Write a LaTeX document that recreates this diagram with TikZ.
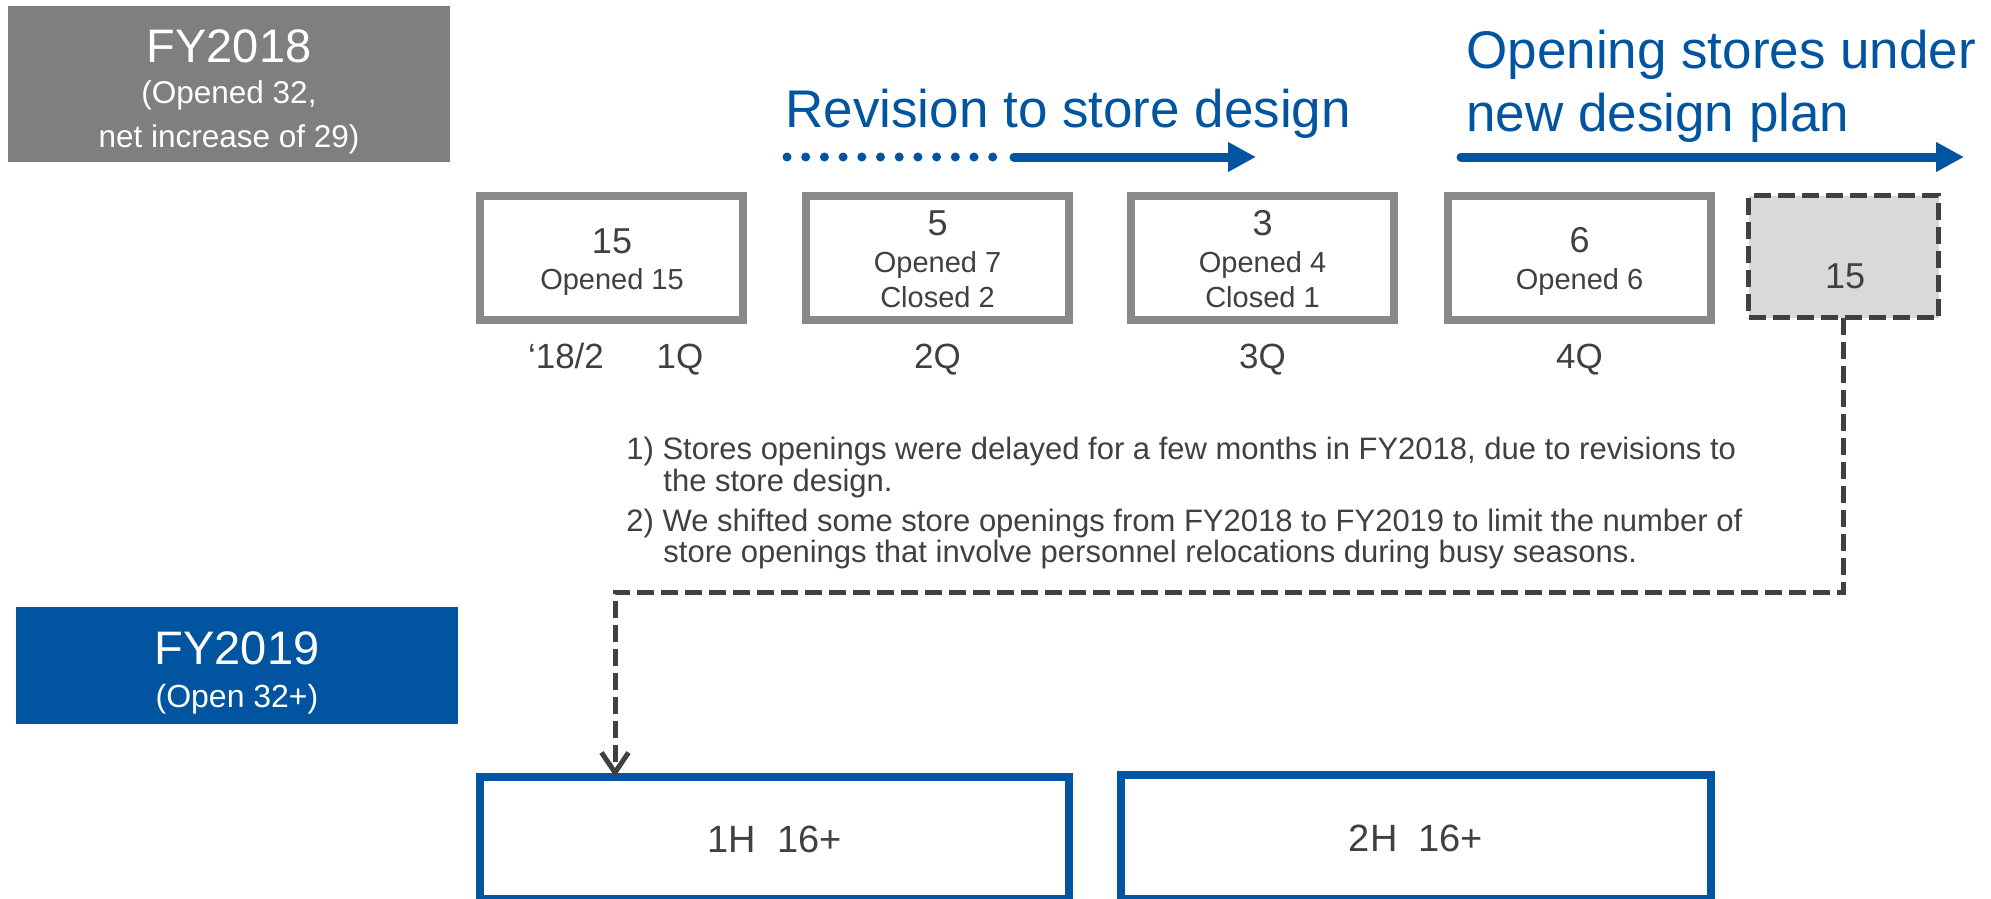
\documentclass[tikz,border=0pt]{standalone}
\usepackage{fontspec}
\setmainfont{Liberation Sans}
\usetikzlibrary{arrows.meta}
\definecolor{fyblue}{RGB}{0,84,160}
\definecolor{fygray}{RGB}{127,127,127}
\definecolor{boxgray}{RGB}{137,137,137}
\definecolor{txt}{RGB}{64,64,64}
\definecolor{dkgray}{RGB}{64,64,64}
\definecolor{lightfill}{RGB}{217,217,217}
\newcommand\myfs[1]{\fontsize{#1}{#1}\selectfont}
\begin{document}
\begin{tikzpicture}[x=0.5pt,y=-0.5pt,
  qbox/.style={draw=boxgray, line width=4pt, fill=white, minimum width=131.5pt, minimum height=62pt, inner sep=0pt, outer sep=0pt},
  hbox/.style={draw=fyblue, line width=4pt, fill=white, inner sep=0pt, outer sep=0pt},
  tagbox/.style={inner sep=0pt, outer sep=0pt, minimum width=221pt},
  wtext/.style={text=white, inner sep=0pt, anchor=base},
  gtext/.style={text=txt, inner sep=0pt, anchor=base},
  btext/.style={text=fyblue, inner sep=0pt, anchor=base west, font=\myfs{26.5pt}},
  conn/.style={draw=dkgray, line width=2.5pt, dash pattern=on 8.5pt off 3.5pt},
  bluearrow/.style={draw=fyblue, line width=4.5pt, line cap=round, -{Triangle[length=14pt,width=14pt]}},
  numf/.style={font=\myfs{18pt}},
  hf/.style={font=\myfs{19pt}},
  detf/.style={font=\myfs{14.5pt}},
  qf/.style={font=\myfs{17.5pt}},
  notef/.style={gtext, anchor=base west, font=\myfs{15.5pt}},
]
\useasboundingbox (0,0) rectangle (1991,899);

% FY tags
\node[tagbox, fill=fygray, minimum height=78pt] (fy18) at (229,84) {};
\node[wtext, font=\myfs{23.5pt}] (fy18a) at (229,63) {FY2018};
\node[wtext, font=\myfs{15.75pt}] (fy18b) at (229,104) {(Opened 32,};
\node[wtext, font=\myfs{15.75pt}] (fy18c) at (229,148) {net increase of 29)};

\node[tagbox, fill=fyblue, minimum height=58.5pt] (fy19) at (237,665.5) {};
\node[wtext, font=\myfs{23.5pt}] (fy19a) at (237,664) {FY2019};
\node[wtext, font=\myfs{16pt}] (fy19b) at (237,707) {(Open 32+)};

% quarter boxes
\node[qbox] (q1) at (611.5,258) {};
\node[qbox] (q2) at (937.5,258) {};
\node[qbox] (q3) at (1262.5,258) {};
\node[qbox] (q4) at (1579.5,258) {};
\node[conn, fill=lightfill, minimum width=95pt, minimum height=61pt, inner sep=0pt, outer sep=0pt] (q5) at (1843.5,256.5) {};

\node[gtext, numf] (q1n) at (612,253) {15};
\node[gtext, detf] (q1d) at (612,289) {Opened 15};
\node[gtext, numf] (q2n) at (937.5,235) {5};
\node[gtext, detf] (q2d) at (937.5,272) {Opened 7};
\node[gtext, detf] (q2e) at (937.5,307) {Closed 2};
\node[gtext, numf] (q3n) at (1262.5,235) {3};
\node[gtext, detf] (q3d) at (1262.5,272) {Opened 4};
\node[gtext, detf] (q3e) at (1262.5,307) {Closed 1};
\node[gtext, numf] (q4n) at (1579.5,252) {6};
\node[gtext, detf] (q4d) at (1579.5,289) {Opened 6};
\node[gtext, numf] (q5n) at (1845,288) {15};

\node[gtext, qf] (l0) at (566,368) {‘18/2};
\node[gtext, qf] (l1) at (680,368) {1Q};
\node[gtext, qf] (l2) at (937.5,368) {2Q};
\node[gtext, qf] (l3) at (1262.5,368) {3Q};
\node[gtext, qf] (l4) at (1579.5,368) {4Q};

% headings and arrows
\node[btext] (rev) at (785,127) {Revision to store design};
\node[btext] (open1) at (1466,69) {Opening stores under};
\node[btext] (open2) at (1466,132) {new design plan};

\coordinate (d0) at (787,157);
\coordinate (d1) at (994,157);
\coordinate (r0) at (1014,157);
\coordinate (r1) at (1256,157);
\coordinate (o0) at (1461,157);
\coordinate (o1) at (1964,157);
\draw[fyblue, line width=4.5pt, line cap=round, dash pattern=on 0pt off 9.35pt] (d0) -- (d1);
\draw[bluearrow] (r0) -- (r1);
\draw[bluearrow] (o0) -- (o1);

% notes
\node[notef] (n1) at (626,459) {1) Stores openings were delayed for a few months in FY2018, due to revisions to};
\node[notef] (n2) at (663,491) {the store design.};
\node[notef] (n3) at (626,531) {2) We shifted some store openings from FY2018 to FY2019 to limit the number of};
\node[notef] (n4) at (663,562) {store openings that involve personnel relocations during busy seasons.};

% half-year boxes
\node[hbox, minimum width=294.5pt, minimum height=61pt] (h1) at (774.5,838) {};
\node[hbox, minimum width=295pt, minimum height=62pt] (h2) at (1416,837) {};
\node[gtext, hf] (h1t) at (774.5,852) {1H\ \ 16+};
\node[gtext, hf] (h2t) at (1416,851) {2H\ \ 16+};

% connector
\coordinate (bend) at (615,592);
\draw[conn, -{Straight Barb[length=10pt,width=13.5pt]}] (q5.south) |- (bend) -- (bend |- h1.north);
\end{tikzpicture}
\end{document}
